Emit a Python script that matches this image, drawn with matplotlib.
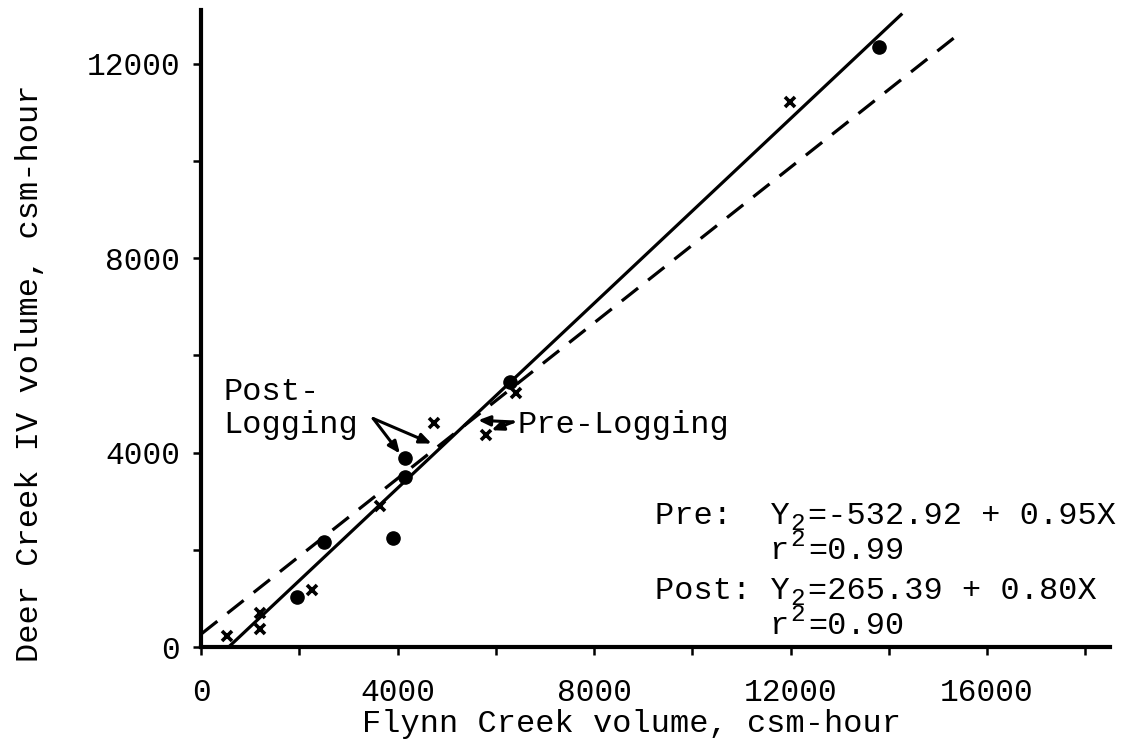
import matplotlib
matplotlib.use("Agg")
import matplotlib.pyplot as plt
import numpy as np

plt.rcParams['font.family'] = ['Liberation Mono', 'DejaVu Sans Mono']

# data
pre_x = [520, 1190, 1200, 2250, 3640, 4740, 5810, 6420, 11980]
pre_y = [230, 690, 380, 1170, 2890, 4600, 4360, 5230, 11200]
post_x = [1950, 2510, 3910, 4150, 4160, 6280, 13810]
post_y = [1030, 2160, 2250, 3500, 3890, 5450, 12330]

# regression lines (from the equations printed on the chart)
pre_fit = (-532.92, 0.95)
post_fit = (265.39, 0.80)
pre_range = [561, 14250]
post_range = [0, 15450]

x_ticks = [0, 4000, 8000, 12000, 16000]
y_ticks = [0, 4000, 8000, 12000]

FS = 23

fig = plt.figure(figsize=(11.36, 7.42), dpi=100)
ax = fig.add_axes([0.177, 0.128, 0.8, 0.8585])

xs = np.array(pre_range)
ax.plot(xs, pre_fit[0] + pre_fit[1] * xs, color='black', lw=2.3)
xs = np.array(post_range)
ax.plot(xs, post_fit[0] + post_fit[1] * xs, color='black', lw=2.3,
        dashes=(6.5, 4))

ax.plot(pre_x, pre_y, 'x', color='black', ms=7, mew=2.6)
ax.plot(post_x, post_y, 'o', color='black', ms=9.5)

ax.set_xlim(0, 18500)
ax.set_ylim(0, 13100)
ax.spines['top'].set_visible(False)
ax.spines['right'].set_visible(False)
for s in ['left', 'bottom']:
    ax.spines[s].set_linewidth(3)

ax.set_xticks(x_ticks)
ax.set_xticks([2000, 6000, 10000, 14000, 18000], minor=True)
ax.set_yticks(y_ticks)
ax.set_yticks([2000, 6000, 10000], minor=True)
ax.tick_params(which='both', direction='out', length=6, width=1.8)
ax.tick_params(axis='x', which='major', labelsize=22.5, pad=16)
ax.tick_params(axis='y', which='major', labelsize=22.5, pad=9)

ax.set_xlabel('Flynn Creek volume, csm-hour', fontsize=FS)
ax.xaxis.set_label_coords(0.474, -0.098)
ax.set_ylabel('Deer Creek IV volume, csm-hour', fontsize=FS)
ax.yaxis.set_label_coords(-0.172, 0.43)

# annotations with arrows
ax.text(447, 5075, 'Post-', fontsize=FS, va='baseline')
ax.text(447, 4397, 'Logging', fontsize=FS, va='baseline')
ax.text(6447, 4403, 'Pre-Logging', fontsize=FS, va='baseline')

arrow = dict(arrowstyle='-|>,head_length=0.7,head_width=0.3', color='black',
             lw=2.2, shrinkA=0, shrinkB=0)
for end in [(4047, 3980), (4692, 4185)]:
    ax.annotate('', xy=end, xytext=(3504, 4699), arrowprops=arrow)
for end in [(5640, 4664), (5912, 4459)]:
    ax.annotate('', xy=end, xytext=(6352, 4629), arrowprops=arrow)

# equations: text before the small 2, the small 2, text after it
eq_head = ['Pre:  Y', 'r', 'Post: Y', 'r']
eq_head_col = [0, 6, 0, 6]
eq_tail = ['=-532.92 + 0.95X', '=0.99', '=265.39 + 0.80X', '=0.90']
eq_y = [2527, 1808, 986, 267]
eq_x = 9233
cw = 0.6 * FS
for head, col, tail, yy in zip(eq_head, eq_head_col, eq_tail, eq_y):
    ax.annotate(head, xy=(eq_x, yy), xytext=(col * cw, 0),
                textcoords='offset points', fontsize=FS, va='baseline')
    dy = -0.17 * FS if 'Y' in head else 0.42 * FS
    ax.annotate('2', xy=(eq_x, yy), xytext=(7 * cw + 1, dy),
                textcoords='offset points', fontsize=FS * 0.76,
                va='baseline')
    ax.annotate(tail, xy=(eq_x, yy), xytext=(8 * cw, 0),
                textcoords='offset points', fontsize=FS, va='baseline')

fig.savefig('out.png', dpi=100)
